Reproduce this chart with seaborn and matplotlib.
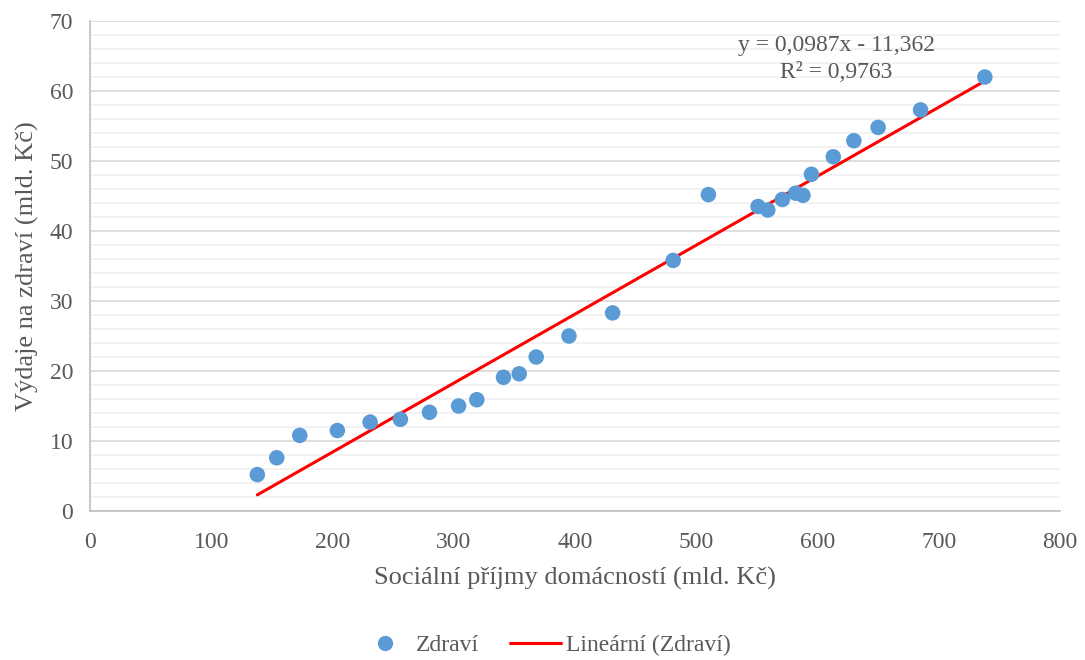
import numpy as np
import pandas as pd
import matplotlib
matplotlib.use("Agg")
import matplotlib.pyplot as plt
from matplotlib.ticker import MultipleLocator
from matplotlib.lines import Line2D
import seaborn as sns

# Data
social_income = [138, 154, 173, 204, 231, 256, 280, 304, 319, 341, 354, 368, 395, 431,
                 481, 510, 551, 559, 571, 582, 588, 595, 613, 630, 650, 685, 738]
health_spend = [5.2, 7.6, 10.8, 11.5, 12.7, 13.1, 14.1, 15.0, 15.9, 19.1, 19.6, 22.0, 25.0, 28.3,
                35.8, 45.2, 43.5, 43.0, 44.5, 45.4, 45.1, 48.1, 50.6, 52.9, 54.8, 57.3, 62.0]
series_name = "Zdraví"
trend_name = "Lineární (Zdraví)"
equation_text = "y = 0,0987x - 11,362"
r2_text = "R² = 0,9763"
x_label = "Sociální příjmy domácností (mld. Kč)"
y_label = "Výdaje na zdraví (mld. Kč)"

df = pd.DataFrame({"x": social_income, "y": health_spend})

sns.set_theme(style="white")
plt.rcParams["font.family"] = ["Liberation Serif", "DejaVu Serif"]

text_color = "#595959"
dot_color = "#5b9bd5"
line_color = "#ff0000"

fig = plt.figure(figsize=(10.85, 6.60), dpi=100)
ax = fig.add_axes([90 / 1085, 1 - 511 / 660, 970 / 1085, 490 / 660])

sns.regplot(data=df, x="x", y="y", ax=ax, scatter=False, ci=None, truncate=True,
            line_kws={"color": line_color, "lw": 2.2, "zorder": 3})
sns.scatterplot(data=df, x="x", y="y", ax=ax, color=dot_color, s=125,
                edgecolor="none", zorder=4)

ax.set_xlim(0, 800)
ax.set_ylim(0, 70)
ax.xaxis.set_major_locator(MultipleLocator(100))
ax.yaxis.set_major_locator(MultipleLocator(10))
ax.yaxis.set_minor_locator(MultipleLocator(2))

ax.grid(False)
ax.grid(axis="y", which="major", color="#d9d9d9", lw=1.2, zorder=0)
ax.grid(axis="y", which="minor", color="#f0f0f0", lw=1.2, zorder=0)
ax.set_axisbelow(True)

for s in ["top", "right"]:
    ax.spines[s].set_visible(False)
for s in ["left", "bottom"]:
    ax.spines[s].set_color("#bfbfbf")
    ax.spines[s].set_linewidth(1.2)

ax.tick_params(axis="both", which="major", length=6, width=1.2, color="#bfbfbf",
               labelsize=17, labelcolor=text_color, direction="out")
ax.tick_params(axis="y", which="minor", length=0)
ax.tick_params(axis="x", pad=9)
ax.tick_params(axis="y", pad=6)

ax.set_xlabel(x_label, fontsize=19, color=text_color, labelpad=10)
ax.set_ylabel(y_label, fontsize=19, color=text_color, labelpad=8)

fig.text(836 / 1085, 1 - 46 / 660, equation_text, ha="center", va="center",
         fontsize=17, color=text_color)
fig.text(836 / 1085, 1 - 73 / 660, r2_text, ha="center", va="center",
         fontsize=17, color=text_color)

handles = [
    Line2D([], [], marker="o", linestyle="none", markersize=11,
           markerfacecolor=dot_color, markeredgecolor="none"),
    Line2D([], [], color=line_color, lw=2.2),
]
fig.legend(handles, [series_name, trend_name], loc="center",
           bbox_to_anchor=(545 / 1085, 1 - 645 / 660), ncol=2, frameon=False,
           fontsize=17, labelcolor=text_color, handlelength=2.2,
           columnspacing=1.3, handletextpad=0.2, borderpad=0, borderaxespad=0)

fig.savefig("out.png", dpi=100)
